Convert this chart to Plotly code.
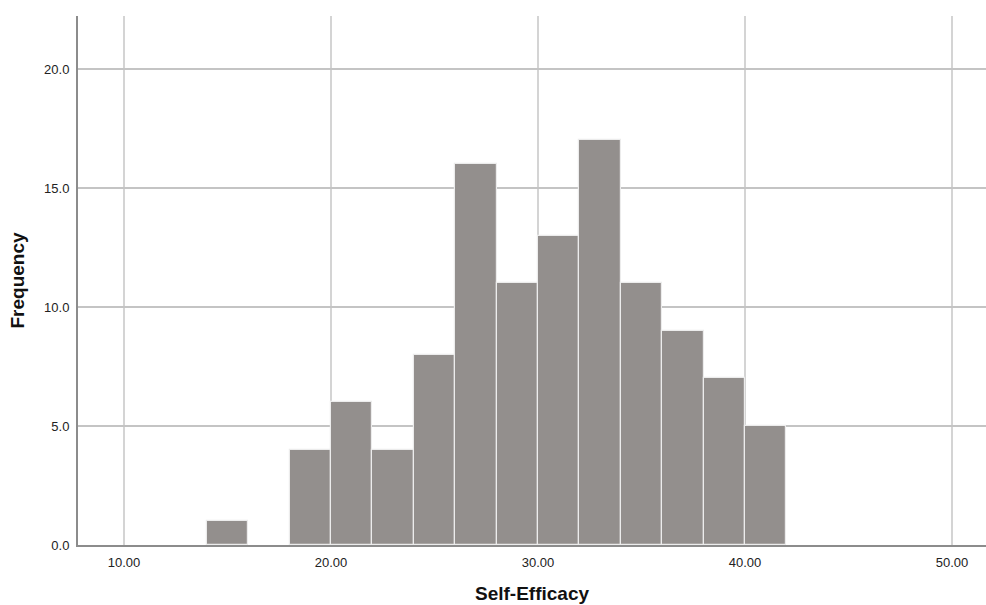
import plotly.graph_objects as go

bin_lower = [14, 16, 18, 20, 22, 24, 26, 28, 30, 32, 34, 36, 38, 40]
counts = [1, 0, 4, 6, 4, 8, 16, 11, 13, 17, 11, 9, 7, 5]
bin_width = 2
x_ticks = [10, 20, 30, 40, 50]
x_tick_labels = ["10.00", "20.00", "30.00", "40.00", "50.00"]
y_ticks = [0, 5, 10, 15, 20]
y_tick_labels = ["0.0", "5.0", "10.0", "15.0", "20.0"]

centers = [b + bin_width / 2 for b in bin_lower]
line_widths = [1.2 if c > 0 else 0 for c in counts]

fig = go.Figure(go.Bar(
    x=centers, y=counts, width=[bin_width] * len(centers),
    marker=dict(color="#938f8d", line=dict(color="#ececec", width=line_widths)),
))

fig.update_layout(
    width=986, height=605,
    margin=dict(l=78, r=0, t=16, b=60),
    paper_bgcolor="white", plot_bgcolor="white",
    font=dict(family="Liberation Sans, Arial, sans-serif", color="#222"),
    showlegend=False,
    bargap=0,
)
fig.update_xaxes(
    range=[7.78, 51.64], tickvals=x_ticks, ticktext=x_tick_labels,
    showgrid=True, gridcolor="#d4d4d4", gridwidth=1.5,
    showline=True, linecolor="#8c8c8c", linewidth=2,
    zeroline=False, ticks="outside", ticklen=4, tickcolor="rgba(0,0,0,0)",
    tickfont=dict(size=13, color="#222"),
    title=dict(text="<b>Self-Efficacy</b>", font=dict(size=19, color="#111"), standoff=18),
    automargin=False,
)
fig.update_yaxes(
    range=[0, 22.23], tickvals=y_ticks, ticktext=y_tick_labels,
    showgrid=True, gridcolor="#c4c4c4", gridwidth=1.5,
    showline=True, linecolor="#8c8c8c", linewidth=2,
    zeroline=False, ticks="outside", ticklen=4, tickcolor="rgba(0,0,0,0)",
    tickfont=dict(size=13, color="#222"),
    title=dict(text="<b>Frequency</b>", font=dict(size=19, color="#111"), standoff=14),
    automargin=False,
)

fig.write_html(
    "out.html",
    config={"displayModeBar": False},
    post_script="document.body.style.margin='0';document.body.style.overflow='hidden';",
)
